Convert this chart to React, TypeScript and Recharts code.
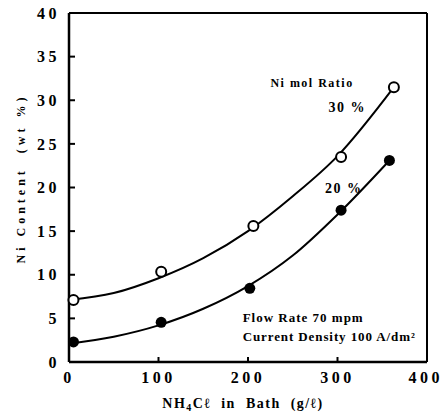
import { ComposedChart, Line, Scatter, XAxis, YAxis, ReferenceLine, ReferenceDot } from "recharts";

// measured points (NH4Cl g/l vs Ni wt%)
const ratio30X = [5, 103, 206, 304, 363];
const ratio30Y = [7.1, 10.35, 15.6, 23.5, 31.5];
const ratio20X = [5, 103, 202, 304, 358];
const ratio20Y = [2.3, 4.55, 8.45, 17.4, 23.1];

// fitted curves
const fit30X = [0, 50, 100, 150, 200, 250, 300, 363];
const fit30Y = [7.1, 7.9, 9.6, 11.9, 15.0, 19.0, 23.6, 31.5];
const fit20X = [0, 50, 100, 150, 200, 250, 300, 358];
const fit20Y = [2.1, 2.9, 4.2, 6.1, 8.7, 12.2, 16.9, 23.1];

const xTicks = [0, 100, 200, 300, 400];
const yTicks = [0, 5, 10, 15, 20, 25, 30, 35, 40];

const toRows = (xs: number[], ys: number[]) => xs.map((x, i) => ({ x, y: ys[i] }));

const FONT = '"Liberation Serif", "DejaVu Serif", serif';
const tickStyle = { fontFamily: FONT, fontWeight: 700, fontSize: 16, fill: "#000", letterSpacing: 3.5 };

const notes = [
  { x: 225, y: 31.5, text: "Ni mol Ratio", size: 12, spacing: 1.5 },
  { x: 290, y: 28.6, text: "30 %", size: 14, spacing: 1.5 },
  { x: 286, y: 19.4, text: "20 %", size: 14, spacing: 1.5 },
  { x: 194, y: 4.6, text: "Flow Rate 70 mpm", size: 13, spacing: 1 },
  { x: 194, y: 2.4, text: "Current Density 100 A/dm\u00b2", size: 13, spacing: 0.9 },
];

const OpenDot = (props: any) => {
  const { cx, cy } = props;
  return <circle cx={cx} cy={cy} r={5} fill="#fff" stroke="#000" strokeWidth={2} />;
};

const FilledDot = (props: any) => {
  const { cx, cy } = props;
  return <circle cx={cx} cy={cy} r={5.5} fill="#000" />;
};

export default function App() {
  return (
    <div style={{ position: "absolute", left: 0, top: 0, width: 443, height: 412, background: "#fff" }}>
      <ComposedChart width={443} height={412} margin={{ top: 13, right: 16, bottom: 0, left: 0 }}>
        <XAxis
          type="number"
          dataKey="x"
          domain={[0, 400]}
          ticks={xTicks}
          height={50}
          axisLine={{ stroke: "#000", strokeWidth: 2.5 }}
          tickLine={{ stroke: "#000", strokeWidth: 2 }}
          tickSize={-5}
          tickMargin={15}
          tick={tickStyle}
          label={{
            value: "",
            position: "insideBottom",
            content: ({ viewBox }: any) => (
              <text
                x={viewBox.x + viewBox.width / 2 - 5}
                y={viewBox.y + 46}
                textAnchor="middle"
                fontFamily={FONT}
                fontWeight={700}
                fontSize={14}
                letterSpacing={1.5}
                xmlSpace="preserve"
                style={{ whiteSpace: "pre" }}
              >
                NH<tspan fontSize={10} dy={3}>4</tspan>
                <tspan dy={-3}>{"C\u2113  in  Bath  (g/\u2113)"}</tspan>
              </text>
            ),
          }}
        />
        <YAxis
          type="number"
          dataKey="y"
          domain={[0, 40]}
          ticks={yTicks}
          width={69}
          axisLine={{ stroke: "#000", strokeWidth: 2.5 }}
          tickLine={{ stroke: "#000", strokeWidth: 2 }}
          tickSize={-6}
          tickMargin={15}
          tick={tickStyle}
          label={{
            value: "",
            content: ({ viewBox }: any) => {
              const cx = 21;
              const cy = viewBox.y + viewBox.height / 2 - 9;
              return (
                <text
                  x={cx}
                  y={cy}
                  transform={`rotate(-90 ${cx} ${cy})`}
                  textAnchor="middle"
                  dominantBaseline="central"
                  fontFamily={FONT}
                  fontWeight={700}
                  fontSize={12}
                  letterSpacing={4}
                  xmlSpace="preserve"
                  style={{ whiteSpace: "pre" }}
                >
                  {"Ni Content  (wt %)"}
                </text>
              );
            },
          }}
        />
        <ReferenceLine y={40} stroke="#000" strokeWidth={2} />
        <ReferenceLine x={400} stroke="#000" strokeWidth={2} />

        <Line
          data={toRows(fit30X, fit30Y)}
          dataKey="y"
          type="monotone"
          stroke="#000"
          strokeWidth={2}
          dot={false}
          isAnimationActive={false}
        />
        <Line
          data={toRows(fit20X, fit20Y)}
          dataKey="y"
          type="monotone"
          stroke="#000"
          strokeWidth={2}
          dot={false}
          isAnimationActive={false}
        />
        <Scatter data={toRows(ratio30X, ratio30Y)} dataKey="y" shape={<OpenDot />} isAnimationActive={false} />
        <Scatter data={toRows(ratio20X, ratio20Y)} dataKey="y" shape={<FilledDot />} isAnimationActive={false} />

        {notes.map((n) => (
          <ReferenceDot
            key={n.text}
            x={n.x}
            y={n.y}
            r={0}
            fill="none"
            stroke="none"
            label={{
              value: n.text,
              content: ({ viewBox }: any) => (
                <text
                  x={viewBox.x}
                  y={viewBox.y}
                  fontFamily={FONT}
                  fontWeight={700}
                  fontSize={n.size}
                  letterSpacing={n.spacing}
                >
                  {n.text}
                </text>
              ),
            }}
          />
        ))}
      </ComposedChart>
    </div>
  );
}
